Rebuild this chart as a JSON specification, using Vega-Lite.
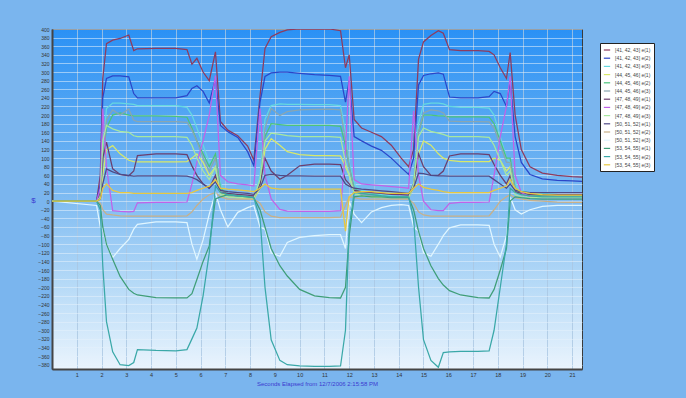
{
"$schema": "https://vega.github.io/schema/vega-lite/v6.json",
"width": 530, "height": 340,
"autosize": {"type": "none"},
"padding": {"left": 52, "top": 29, "right": 104, "bottom": 29},
"background": "#7ab5ee",
"view": {"fill": {"gradient": "linear", "x1": 0, "y1": 0, "x2": 0, "y2": 1, "stops": [{"offset": 0, "color": "#2a91f5"}, {"offset": 0.45, "color": "#75b6f1"}, {"offset": 0.75, "color": "#b6daf7"}, {"offset": 1, "color": "#eaf4fd"}]}, "stroke": "#3a3a3a", "strokeWidth": 1},
"datasets": {"names": [
{"k": "a", "name": "[41, 42, 43] e(1)"}, {"k": "b", "name": "[41, 42, 43] e(2)"}, {"k": "c", "name": "[41, 42, 43] e(3)"},
{"k": "d", "name": "[44, 45, 46] e(1)"}, {"k": "e", "name": "[44, 45, 46] e(2)"}, {"k": "f", "name": "[44, 45, 46] e(3)"},
{"k": "g", "name": "[47, 48, 49] e(1)"}, {"k": "h", "name": "[47, 48, 49] e(2)"}, {"k": "i", "name": "[47, 48, 49] e(3)"},
{"k": "j", "name": "[50, 51, 52] e(1)"}, {"k": "k", "name": "[50, 51, 52] e(2)"}, {"k": "l", "name": "[50, 51, 52] e(3)"},
{"k": "m", "name": "[53, 54, 55] e(1)"}, {"k": "n", "name": "[53, 54, 55] e(2)"}, {"k": "o", "name": "[53, 54, 55] e(3)"}
]},
"data": {"values": [
{"t":0,"a":0,"b":0,"c":0,"d":0,"e":0,"f":0,"g":0,"h":0,"i":0,"j":0,"k":0,"l":0,"m":0,"n":0,"o":0},
{"t":1.8,"a":0,"b":0,"c":0,"d":0,"e":0,"f":0,"g":0,"h":0,"i":0,"j":0,"k":0,"l":-10,"m":0,"n":0,"o":0},
{"t":1.95,"a":60,"b":40,"c":10,"d":5,"e":10,"f":8,"g":20,"h":30,"i":10,"j":5,"k":-5,"l":-60,"m":-10,"n":-20,"o":5},
{"t":2.05,"a":285,"b":240,"c":120,"d":60,"e":100,"f":90,"g":100,"h":215,"i":140,"j":40,"k":-20,"l":-65,"m":-60,"n":-150,"o":30},
{"t":2.2,"a":366,"b":285,"c":215,"d":120,"e":170,"f":190,"g":137,"h":80,"i":176,"j":75,"k":-30,"l":-100,"m":-100,"n":-280,"o":40},
{"t":2.45,"a":374,"b":291,"c":228,"d":129,"e":200,"f":212,"g":75,"h":-22,"i":168,"j":68,"k":-32,"l":-131,"m":-135,"n":-350,"o":25},
{"t":2.75,"a":378,"b":291,"c":228,"d":110,"e":205,"f":200,"g":62,"h":-24,"i":162,"j":62,"k":-34,"l":-110,"m":-175,"n":-380,"o":20},
{"t":3.1,"a":386,"b":289,"c":226,"d":95,"e":200,"f":214,"g":59,"h":-25,"i":160,"j":60,"k":-35,"l":-89,"m":-205,"n":-382,"o":20},
{"t":3.3,"a":350,"b":250,"c":225,"d":92,"e":198,"f":188,"g":70,"h":-24,"i":152,"j":58,"k":-35,"l":-65,"m":-214,"n":-375,"o":18},
{"t":3.45,"a":354,"b":240,"c":222,"d":91,"e":198,"f":185,"g":106,"h":-4,"i":150,"j":59,"k":-35,"l":-54,"m":-218,"n":-345,"o":18},
{"t":4.2,"a":355,"b":240,"c":222,"d":91,"e":198,"f":185,"g":110,"h":-3,"i":150,"j":59,"k":-35,"l":-48,"m":-224,"n":-347,"o":18},
{"t":5.0,"a":355,"b":240,"c":222,"d":91,"e":197,"f":185,"g":110,"h":-3,"i":150,"j":59,"k":-35,"l":-48,"m":-225,"n":-348,"o":18},
{"t":5.45,"a":352,"b":245,"c":218,"d":92,"e":195,"f":183,"g":108,"h":-2,"i":148,"j":58,"k":-34,"l":-50,"m":-225,"n":-345,"o":18},
{"t":5.65,"a":318,"b":262,"c":200,"d":100,"e":170,"f":165,"g":82,"h":40,"i":130,"j":55,"k":-25,"l":-100,"m":-215,"n":-320,"o":20},
{"t":5.85,"a":332,"b":268,"c":170,"d":110,"e":140,"f":140,"g":60,"h":90,"i":100,"j":50,"k":-10,"l":-135,"m":-182,"n":-295,"o":25},
{"t":6.1,"a":300,"b":255,"c":130,"d":90,"e":110,"f":100,"g":40,"h":140,"i":70,"j":40,"k":5,"l":-90,"m":-140,"n":-220,"o":30},
{"t":6.35,"a":280,"b":228,"c":90,"d":60,"e":80,"f":70,"g":30,"h":200,"i":50,"j":30,"k":15,"l":-30,"m":-104,"n":-120,"o":35},
{"t":6.6,"a":347,"b":285,"c":100,"d":80,"e":110,"f":100,"g":60,"h":292,"i":80,"j":45,"k":20,"l":20,"m":5,"n":36,"o":50},
{"t":6.8,"a":185,"b":176,"c":40,"d":20,"e":30,"f":25,"g":20,"h":60,"i":15,"j":25,"k":10,"l":-20,"m":10,"n":20,"o":30},
{"t":7.1,"a":165,"b":161,"c":20,"d":10,"e":15,"f":12,"g":18,"h":45,"i":10,"j":22,"k":5,"l":-60,"m":15,"n":15,"o":28},
{"t":7.5,"a":152,"b":148,"c":15,"d":8,"e":12,"f":10,"g":16,"h":40,"i":8,"j":20,"k":5,"l":-26,"m":12,"n":12,"o":26},
{"t":7.9,"a":128,"b":115,"c":10,"d":6,"e":10,"f":8,"g":14,"h":38,"i":8,"j":18,"k":5,"l":-15,"m":10,"n":10,"o":24},
{"t":8.15,"a":95,"b":82,"c":5,"d":4,"e":8,"f":6,"g":12,"h":35,"i":6,"j":16,"k":5,"l":-10,"m":8,"n":8,"o":22},
{"t":8.4,"a":245,"b":230,"c":60,"d":30,"e":40,"f":40,"g":40,"h":215,"i":50,"j":30,"k":-5,"l":-60,"m":-20,"n":-40,"o":30},
{"t":8.6,"a":355,"b":290,"c":190,"d":120,"e":150,"f":170,"g":100,"h":60,"i":140,"j":60,"k":-25,"l":-65,"m":-60,"n":-200,"o":40},
{"t":8.85,"a":382,"b":298,"c":222,"d":145,"e":180,"f":215,"g":70,"h":5,"i":158,"j":62,"k":-35,"l":-120,"m":-110,"n":-322,"o":30},
{"t":9.2,"a":392,"b":300,"c":226,"d":130,"e":178,"f":199,"g":51,"h":-19,"i":155,"j":60,"k":-38,"l":-128,"m":-150,"n":-370,"o":28},
{"t":9.5,"a":398,"b":300,"c":225,"d":115,"e":176,"f":208,"g":60,"h":-23,"i":152,"j":59,"k":-38,"l":-96,"m":-174,"n":-380,"o":28},
{"t":10.0,"a":400,"b":297,"c":225,"d":108,"e":176,"f":212,"g":82,"h":-24,"i":150,"j":59,"k":-38,"l":-84,"m":-205,"n":-383,"o":28},
{"t":10.6,"a":400,"b":294,"c":224,"d":106,"e":176,"f":213,"g":86,"h":-24,"i":150,"j":58,"k":-38,"l":-80,"m":-220,"n":-384,"o":28},
{"t":11.2,"a":400,"b":292,"c":224,"d":106,"e":176,"f":214,"g":86,"h":-24,"i":150,"j":58,"k":-38,"l":-78,"m":-224,"n":-384,"o":28},
{"t":11.65,"a":396,"b":290,"c":222,"d":105,"e":174,"f":212,"g":85,"h":-22,"i":148,"j":58,"k":-37,"l":-78,"m":-225,"n":-383,"o":28},
{"t":11.85,"a":310,"b":230,"c":160,"d":80,"e":130,"f":140,"g":50,"h":120,"i":90,"j":40,"k":-10,"l":-110,"m":-200,"n":-300,"o":-70},
{"t":12.0,"a":340,"b":280,"c":90,"d":60,"e":80,"f":80,"g":40,"h":290,"i":60,"j":35,"k":10,"l":0,"m":-80,"n":-60,"o":10},
{"t":12.2,"a":190,"b":150,"c":40,"d":20,"e":30,"f":25,"g":25,"h":50,"i":18,"j":30,"k":8,"l":-30,"m":10,"n":20,"o":20},
{"t":12.5,"a":170,"b":140,"c":25,"d":12,"e":18,"f":15,"g":22,"h":40,"i":12,"j":28,"k":5,"l":-50,"m":12,"n":18,"o":22},
{"t":12.9,"a":160,"b":128,"c":18,"d":10,"e":15,"f":12,"g":20,"h":38,"i":10,"j":26,"k":5,"l":-25,"m":10,"n":15,"o":22},
{"t":13.3,"a":150,"b":118,"c":15,"d":8,"e":12,"f":10,"g":18,"h":36,"i":10,"j":24,"k":5,"l":-15,"m":10,"n":12,"o":20},
{"t":13.7,"a":130,"b":100,"c":12,"d":8,"e":10,"f":8,"g":16,"h":34,"i":8,"j":22,"k":5,"l":-10,"m":8,"n":10,"o":18},
{"t":14.1,"a":100,"b":78,"c":10,"d":8,"e":10,"f":8,"g":15,"h":32,"i":8,"j":20,"k":5,"l":-8,"m":8,"n":10,"o":18},
{"t":14.4,"a":80,"b":62,"c":8,"d":8,"e":10,"f":8,"g":14,"h":30,"i":8,"j":18,"k":5,"l":-10,"m":8,"n":10,"o":18},
{"t":14.6,"a":120,"b":100,"c":40,"d":30,"e":40,"f":35,"g":40,"h":210,"i":40,"j":30,"k":-5,"l":-60,"m":-20,"n":-40,"o":30},
{"t":14.8,"a":330,"b":270,"c":180,"d":110,"e":160,"f":160,"g":110,"h":60,"i":150,"j":65,"k":-25,"l":-70,"m":-70,"n":-200,"o":40},
{"t":15.0,"a":370,"b":292,"c":225,"d":140,"e":200,"f":205,"g":80,"h":0,"i":170,"j":64,"k":-32,"l":-120,"m":-110,"n":-322,"o":32},
{"t":15.3,"a":385,"b":296,"c":228,"d":130,"e":200,"f":212,"g":60,"h":-20,"i":162,"j":60,"k":-35,"l":-128,"m":-150,"n":-370,"o":28},
{"t":15.6,"a":396,"b":298,"c":228,"d":110,"e":198,"f":210,"g":60,"h":-22,"i":158,"j":59,"k":-35,"l":-100,"m":-180,"n":-386,"o":25},
{"t":15.8,"a":390,"b":295,"c":226,"d":100,"e":198,"f":205,"g":70,"h":-22,"i":155,"j":59,"k":-35,"l":-80,"m":-195,"n":-352,"o":22},
{"t":16.05,"a":352,"b":242,"c":220,"d":95,"e":196,"f":186,"g":105,"h":-5,"i":150,"j":58,"k":-35,"l":-62,"m":-208,"n":-350,"o":20},
{"t":16.5,"a":350,"b":240,"c":218,"d":92,"e":196,"f":185,"g":110,"h":-3,"i":150,"j":58,"k":-35,"l":-55,"m":-218,"n":-349,"o":20},
{"t":17.2,"a":350,"b":240,"c":218,"d":92,"e":196,"f":185,"g":110,"h":-3,"i":150,"j":58,"k":-35,"l":-55,"m":-224,"n":-349,"o":20},
{"t":17.65,"a":348,"b":243,"c":216,"d":92,"e":195,"f":184,"g":108,"h":-2,"i":148,"j":58,"k":-34,"l":-56,"m":-225,"n":-348,"o":20},
{"t":17.85,"a":340,"b":255,"c":200,"d":100,"e":180,"f":170,"g":85,"h":60,"i":130,"j":50,"k":-20,"l":-100,"m":-205,"n":-300,"o":25},
{"t":18.1,"a":310,"b":250,"c":150,"d":95,"e":140,"f":130,"g":60,"h":150,"i":95,"j":40,"k":0,"l":-130,"m":-160,"n":-200,"o":30},
{"t":18.35,"a":285,"b":220,"c":100,"d":70,"e":100,"f":90,"g":40,"h":220,"i":60,"j":30,"k":10,"l":-80,"m":-110,"n":-100,"o":35},
{"t":18.5,"a":345,"b":280,"c":90,"d":80,"e":100,"f":90,"g":60,"h":290,"i":70,"j":40,"k":15,"l":10,"m":0,"n":30,"o":50},
{"t":18.7,"a":200,"b":150,"c":40,"d":25,"e":30,"f":25,"g":22,"h":60,"i":15,"j":25,"k":8,"l":-20,"m":10,"n":20,"o":30},
{"t":18.95,"a":120,"b":90,"c":25,"d":15,"e":18,"f":15,"g":18,"h":20,"i":10,"j":22,"k":5,"l":-30,"m":8,"n":15,"o":22},
{"t":19.3,"a":80,"b":62,"c":20,"d":12,"e":14,"f":12,"g":16,"h":10,"i":8,"j":20,"k":2,"l":-20,"m":6,"n":12,"o":18},
{"t":19.8,"a":65,"b":52,"c":18,"d":10,"e":12,"f":10,"g":15,"h":8,"i":8,"j":20,"k":0,"l":-12,"m":5,"n":10,"o":15},
{"t":20.4,"a":60,"b":48,"c":16,"d":10,"e":12,"f":10,"g":15,"h":8,"i":8,"j":20,"k":-2,"l":-10,"m":5,"n":10,"o":14},
{"t":21.0,"a":57,"b":47,"c":15,"d":10,"e":12,"f":10,"g":15,"h":8,"i":8,"j":20,"k":-3,"l":-10,"m":5,"n":10,"o":14},
{"t":21.4,"a":56,"b":46,"c":15,"d":10,"e":12,"f":10,"g":15,"h":8,"i":8,"j":20,"k":-3,"l":-10,"m":5,"n":10,"o":14}
]},
"transform": [
{"fold": ["a","b","c","d","e","f","g","h","i","j","k","l","m","n","o"], "as": ["k","v"]},
{"lookup": "k", "from": {"data": {"name": "names"}, "key": "k", "fields": ["name"]}}
],
"mark": {"type": "line", "strokeWidth": 1.25, "clip": true},
"encoding": {
"x": {"field": "t", "type": "quantitative", "scale": {"domain": [0, 21.4], "nice": false, "zero": false},
 "axis": {"values": [1,2,3,4,5,6,7,8,9,10,11,12,13,14,15,16,17,18,19,20,21], "title": "Seconds Elapsed from 12/7/2006 2:15:58 PM", "titleFontSize": 6, "titleColor": "#3a3ad0", "titleFontWeight": "normal", "titleFont": "Liberation Sans", "titleY": 11, "titleBaseline": "top", "labelFontSize": 5.5, "labelFont": "Liberation Sans", "labelColor": "#333333", "labelPadding": 3, "ticks": false, "domainColor": "#444444", "domainWidth": 2, "gridColor": "#a9c6e2", "gridWidth": 0.8}},
"y": {"field": "v", "type": "quantitative", "scale": {"domain": [-390, 400], "nice": false, "zero": false},
 "axis": {"values": [-380,-360,-340,-320,-300,-280,-260,-240,-220,-200,-180,-160,-140,-120,-100,-80,-60,-40,-20,0,20,40,60,80,100,120,140,160,180,200,220,240,260,280,300,320,340,360,380,400], "title": "$", "titleAngle": 0, "titleX": -19, "titleY": 171, "titleAlign": "center", "titleBaseline": "middle", "titleFontSize": 8, "titleColor": "#3a3ad0", "titleFontWeight": "normal", "labelFontSize": 5, "labelFont": "Liberation Sans", "labelColor": "#333333", "labelPadding": 3, "ticks": false, "domainColor": "#444444", "domainWidth": 2, "gridColor": "#e4f1fc", "gridOpacity": 0.7, "gridWidth": 0.8}},
"color": {"field": "name", "type": "nominal",
 "scale": {"domain": ["[41, 42, 43] e(1)","[41, 42, 43] e(2)","[41, 42, 43] e(3)","[44, 45, 46] e(1)","[44, 45, 46] e(2)","[44, 45, 46] e(3)","[47, 48, 49] e(1)","[47, 48, 49] e(2)","[47, 48, 49] e(3)","[50, 51, 52] e(1)","[50, 51, 52] e(2)","[50, 51, 52] e(3)","[53, 54, 55] e(1)","[53, 54, 55] e(2)","[53, 54, 55] e(3)"],
  "range": ["#8e3b5e","#2b46c8","#66d8e0","#d8e86a","#4cc47a","#8aa6b0","#6b3f6e","#c062e8","#a8e8a0","#4f4a86","#c8b088","#e0f6ff","#3f9e78","#3aa8a8","#e8c840"]},
 "legend": {"orient": "none", "legendX": 548, "legendY": 14, "title": null, "fillColor": "#ffffff", "strokeColor": "#222222", "padding": 3, "labelFontSize": 5, "labelFont": "Liberation Sans", "labelColor": "#444444", "symbolType": "stroke", "symbolSize": 40, "symbolStrokeWidth": 1.2, "rowPadding": 1.2, "labelLimit": 60}}
}
}
